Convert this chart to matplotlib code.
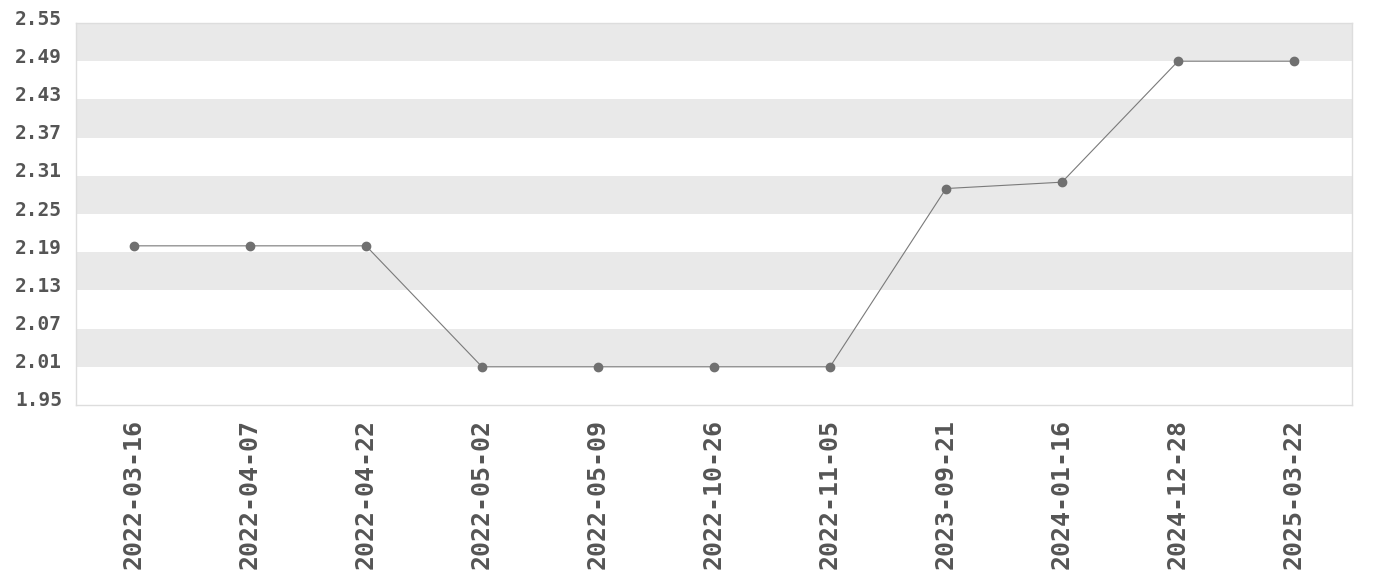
import matplotlib.pyplot as plt
import matplotlib.transforms as mtransforms
import numpy as np

dates = ['2022-03-16', '2022-04-07', '2022-04-22', '2022-05-02', '2022-05-09',
         '2022-10-26', '2022-11-05', '2023-09-21', '2024-01-16', '2024-12-28',
         '2025-03-22']
values = [2.20, 2.20, 2.20, 2.01, 2.01, 2.01, 2.01, 2.29, 2.30, 2.49, 2.49]
y_ticks = [1.95, 2.01, 2.07, 2.13, 2.19, 2.25, 2.31, 2.37, 2.43, 2.49, 2.55]

plt.rcParams['font.family'] = ['DejaVu Sans Mono']

fig = plt.figure(figsize=(13.8, 5.8), dpi=100)
ax = fig.add_axes([76 / 1380, 1 - 405 / 580, 1276 / 1380, 382 / 580])

# alternating bands, gray on top
for i in range(len(y_ticks) - 1):
    if (len(y_ticks) - 2 - i) % 2 == 0:
        ax.axhspan(y_ticks[i], y_ticks[i + 1], color='#e9e9e9', lw=0, zorder=0)

x = np.arange(len(dates))
ax.plot(x, values, color='#7a7a7a', lw=0.8, marker='o', markersize=6,
        markerfacecolor='#707070', markeredgecolor='#707070', zorder=3)

ax.set_xlim(-0.5, len(dates) - 0.5)
ax.set_ylim(y_ticks[0], y_ticks[-1])
ax.set_yticks(y_ticks)
ax.set_yticklabels([f'{v:.2f}' for v in y_ticks], fontsize=14,
                   fontweight='bold', color='#555555')
ax.set_xticks(x)
ax.set_xticklabels(dates, rotation=90, fontsize=18, fontweight='bold',
                   color='#555555')
ax.tick_params(axis='y', length=0, pad=10)
ax.tick_params(axis='x', length=0, pad=10)

# y labels sit a little above their gridline
shift = mtransforms.ScaledTranslation(0, 6 / 100, fig.dpi_scale_trans)
for lab in ax.get_yticklabels():
    lab.set_transform(lab.get_transform() + shift)

for s in ax.spines.values():
    s.set_color('#dddddd')
    s.set_linewidth(1)

fig.savefig('out.png', dpi=100)
